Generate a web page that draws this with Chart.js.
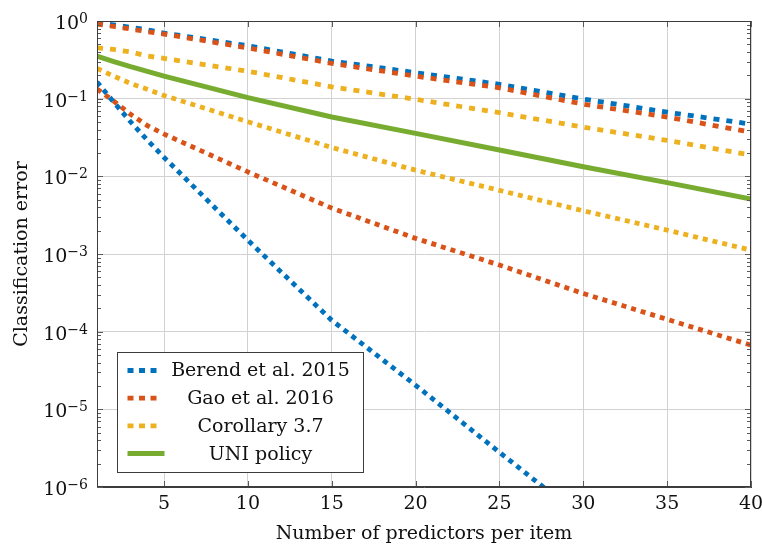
<!DOCTYPE html>
<html><head><meta charset="utf-8">
<script src="https://cdn.jsdelivr.net/npm/chart.js@4/dist/chart.umd.min.js"></script>
<style>html,body{margin:0;padding:0;background:#fff}#wrap{width:762px;height:545px}</style>
</head><body><div id="wrap"><canvas id="c" width="762" height="545"></canvas></div>
<script>
const xValues = [1, 2, 3, 4, 5, 10, 15, 20, 25, 30, 35, 40];
const berendUpper = [0.95, 0.89, 0.83, 0.77, 0.70, 0.48, 0.305, 0.216, 0.153, 0.099, 0.067, 0.047];
const berendLower = [0.164, 0.090, 0.0504, 0.0293, 0.0175, 0.0015, 0.00014, 2.04e-5, 2.8e-6, 3.9e-7, null, null];
const gaoUpper = [0.91, 0.85, 0.79, 0.73, 0.68, 0.45, 0.285, 0.195, 0.138, 0.085, 0.058, 0.037];
const gaoLower = [0.133, 0.093, 0.063, 0.045, 0.035, 0.0114, 0.0039, 0.00159, 0.00072, 0.00031, 0.000144, 0.000067];
const corollaryUpper = [0.45, 0.43, 0.40, 0.354, 0.33, 0.225, 0.142, 0.098, 0.066, 0.043, 0.029, 0.0188];
const corollaryLower = [0.245, 0.195, 0.157, 0.132, 0.11, 0.0504, 0.0235, 0.012, 0.0066, 0.0036, 0.00203, 0.00112];
const uniPolicy = [0.352, 0.30, 0.258, 0.225, 0.195, 0.103, 0.058, 0.0357, 0.0218, 0.0133, 0.0083, 0.0051];
const seriesNames = ['Berend et al. 2015', 'Gao et al. 2016', 'Corollary 3.7', 'UNI policy'];
const xTicks = [5, 10, 15, 20, 25, 30, 35, 40];
const yExponents = [-6, -5, -4, -3, -2, -1, 0];
const xTitle = 'Number of predictors per item';
const yTitle = 'Classification error';

const BLUE = '#0072BD', ORANGE = '#D95319', YELLOW = '#EDB120', GREEN = '#77AC30';
const FONT = "'DejaVu Serif', serif";
const pts = arr => xValues.map((x, i) => ({x, y: arr[i]}));

function ds(label, arr, color, dash, order, width) {
  return {label, data: pts(arr), borderColor: color, backgroundColor: color,
    borderWidth: width || 4.8, borderDash: dash, borderCapStyle: 'butt',
    pointRadius: 0, tension: 0, fill: false, order, spanGaps: false};
}
const upDash = [6, 7], lowDash = [5, 5];
const datasets = [
  ds(seriesNames[0], berendUpper, BLUE, upDash, 7),
  ds(seriesNames[1], gaoUpper, ORANGE, upDash, 6),
  ds(seriesNames[2], corollaryUpper, YELLOW, upDash, 5),
  ds(seriesNames[3], uniPolicy, GREEN, [], 4, 5),
  ds(seriesNames[2], corollaryLower, YELLOW, lowDash, 3),
  ds(seriesNames[1], gaoLower, ORANGE, lowDash, 2),
  ds(seriesNames[0], berendLower, BLUE, lowDash, 1),
];

const legendItems = [
  {name: seriesNames[0], color: BLUE, dash: [6, 5.5], w: 4.8, len: 30},
  {name: seriesNames[1], color: ORANGE, dash: [6, 5.5], w: 4.8, len: 30},
  {name: seriesNames[2], color: YELLOW, dash: [6, 5.5], w: 4.8, len: 30},
  {name: seriesNames[3], color: GREEN, dash: [], w: 5, len: 37},
];

const decor = {
  id: 'decor',
  afterDatasetsDraw(chart) {
    const {ctx, chartArea: a, scales: {x, y}} = chart;
    ctx.save();
    const seg = (x1, y1, x2, y2) => { ctx.beginPath(); ctx.moveTo(x1, y1); ctx.lineTo(x2, y2); ctx.stroke(); };
    ctx.strokeStyle = '#5a5a5a'; ctx.lineWidth = 1; ctx.setLineDash([]);
    yExponents.forEach(e => {
      for (let m = 1; m <= 9; m++) {
        const v = m * Math.pow(10, e);
        if (v > 1.0000001) break;
        const py = Math.round(y.getPixelForValue(v)) + 0.5;
        const len = m === 1 ? 6 : 4;
        seg(a.left, py, a.left + len, py);
        seg(a.right, py, a.right - len, py);
      }
    });
    xTicks.forEach(t => {
      const px = Math.round(x.getPixelForValue(t)) + 0.5;
      seg(px, a.bottom, px, a.bottom - 6);
      seg(px, a.top, px, a.top + 6);
    });
    ctx.strokeStyle = '#3c3c3c';
    ctx.strokeRect(Math.round(a.left) + 0.5, Math.round(a.top) + 0.5, Math.round(a.width) - 1, Math.round(a.height) - 1);

    // y tick labels with superscript exponents
    ctx.fillStyle = '#111';
    yExponents.forEach(e => {
      const py = y.getPixelForValue(Math.pow(10, e));
      const exp = e === 0 ? '0' : '\u2212' + Math.abs(e);
      ctx.font = '14px ' + FONT;
      const ew = ctx.measureText(exp).width;
      const right = a.left - 9;
      ctx.textAlign = 'left';
      ctx.textBaseline = 'alphabetic';
      ctx.fillText(exp, right - ew, py + 2);
      ctx.font = '19px ' + FONT;
      ctx.textAlign = 'right';
      ctx.textBaseline = 'middle';
      ctx.fillText('10', right - ew, py + 3);
    });

    // legend
    const bx = Math.round(a.left + 20) + 0.5, by = Math.round(a.top + 331) + 0.5, bw = 246, bh = 120;
    ctx.fillStyle = '#fff';
    ctx.fillRect(bx, by, bw, bh);
    ctx.strokeStyle = '#3c3c3c'; ctx.lineWidth = 1;
    ctx.strokeRect(bx, by, bw, bh);
    legendItems.forEach((it, i) => {
      const cy = by + 18 + i * 27.7;
      ctx.strokeStyle = it.color; ctx.lineWidth = it.w; ctx.lineCap = 'butt';
      ctx.setLineDash(it.dash);
      seg(bx + 10, cy, bx + 10 + it.len, cy);
      ctx.setLineDash([]);
      ctx.fillStyle = '#111';
      ctx.font = '19px ' + FONT;
      ctx.textAlign = 'center'; ctx.textBaseline = 'middle';
      ctx.fillText(it.name, bx + 143, cy + 1);
    });
    ctx.restore();
  }
};

new Chart(document.getElementById('c'), {
  type: 'line',
  data: {datasets},
  options: {
    responsive: false, animation: false, devicePixelRatio: 1,
    layout: {padding: {top: 21, right: 11, left: 0, bottom: 0}},
    plugins: {legend: {display: false}, tooltip: {enabled: false}},
    scales: {
      x: {
        type: 'linear', min: 1, max: 40,
        afterBuildTicks: s => { s.ticks = xTicks.map(v => ({value: v})); },
        afterFit: s => { s.height = 58; s.paddingLeft = 0; s.paddingRight = 0; },
        grid: {color: '#d2d2d2', lineWidth: 1, drawTicks: false},
        border: {display: true, color: '#3c3c3c'},
        ticks: {autoSkip: false, maxRotation: 0, padding: 6, color: '#111', font: {family: FONT, size: 19}},
        title: {display: true, text: xTitle, color: '#111', font: {family: FONT, size: 19}, padding: {top: 0, bottom: 0}}
      },
      y: {
        type: 'logarithmic', min: 1e-6, max: 1,
        afterBuildTicks: s => { s.ticks = yExponents.map(e => ({value: Math.pow(10, e)})); },
        afterFit: s => { s.width = 97; s.paddingTop = 0; s.paddingBottom = 0; },
        grid: {color: '#d2d2d2', lineWidth: 1, drawTicks: false},
        border: {display: true, color: '#3c3c3c'},
        ticks: {display: false},
        title: {display: true, text: yTitle, color: '#111', font: {family: FONT, size: 19}, padding: {top: 10.6, bottom: 0}}
      }
    }
  },
  plugins: [decor]
});
</script></body></html>
